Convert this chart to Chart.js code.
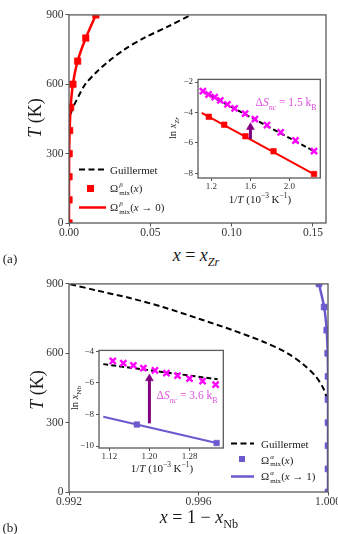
<!DOCTYPE html>
<html><head><meta charset="utf-8">
<script src="https://cdn.jsdelivr.net/npm/chart.js@4.4.1/dist/chart.umd.min.js"></script>
<style>
html,body{margin:0;padding:0;background:#fff;}
body{position:relative;width:338px;height:534px;overflow:hidden;font-family:"Liberation Serif","Times New Roman",serif;color:#1a1a1a;}
canvas{position:absolute;}
.t{position:absolute;white-space:nowrap;line-height:1;}
.c{transform:translate(-50%,-50%);}
.r{transform:translate(-50%,-50%) rotate(-90deg);}
.l{transform:translateY(-50%);}
sub,sup{font-size:0.68em;line-height:0;}
.ss{display:inline-block;position:relative;width:11px;height:0;margin-left:1px;}
.ss .u{position:absolute;left:0;top:-10px;font-size:7px;line-height:1;}
.ss .d{position:absolute;left:0;top:-2.5px;font-size:7px;line-height:1;}
.mg{color:#dd4fdd;}
.sym{position:absolute;}
</style></head><body>
<canvas id="cA" width="305" height="237" style="left:29px;top:6px"></canvas>
<canvas id="cB" width="151" height="120" style="left:176px;top:72px"></canvas>
<canvas id="cC" width="315" height="237" style="left:29px;top:275px"></canvas>
<canvas id="cD" width="155" height="119" style="left:75px;top:343px"></canvas>

<!-- panel (a) texts -->
<div class="t r" style="left:35px;top:118px;font-size:18px"><i>T</i> (K)</div>
<div class="t c" style="left:196px;top:255px;font-size:18px"><i>x</i> = <i>x</i><sub><i>Zr</i></sub></div>
<div class="t c" style="left:10px;top:258px;font-size:13px">(a)</div>
<div class="t r" style="left:173px;top:128px;font-size:10.5px">ln <i>x</i><sub><i>Zr</i></sub></div>
<div class="t c" style="left:260px;top:199px;font-size:11px">1/<i>T</i> (10<sup>−3</sup> K<sup>−1</sup>)</div>
<div class="t c mg" style="left:286px;top:103px;font-size:11.5px">Δ<i>S</i><sub><i>nc</i></sub> = 1.5 k<sub>B</sub></div>
<svg class="sym" style="left:78px;top:165px" width="30" height="9"><line x1="1" y1="4.5" x2="28" y2="4.5" stroke="#000" stroke-width="2" stroke-dasharray="6,3.5"/></svg>
<div class="sym" style="left:86.5px;top:184.5px;width:7px;height:7px;background:#f00"></div>
<svg class="sym" style="left:78px;top:202.5px" width="30" height="9"><line x1="1" y1="4.5" x2="28" y2="4.5" stroke="#f00" stroke-width="2.5"/></svg>
<div class="t l" style="left:110px;top:169.5px;font-size:11px">Guillermet</div>
<div class="t l" style="left:110px;top:188px;font-size:11px">Ω<span class="ss"><span class="u"><i>β</i></span><span class="d">mix</span></span>(<i>x</i>)</div>
<div class="t l" style="left:110px;top:207px;font-size:11px">Ω<span class="ss"><span class="u"><i>β</i></span><span class="d">mix</span></span>(<i>x</i> → 0)</div>

<!-- panel (b) texts -->
<div class="t r" style="left:37px;top:390px;font-size:18px"><i>T</i> (K)</div>
<div class="t c" style="left:199px;top:517px;font-size:18px"><i>x</i> = 1 − <i>x</i><sub>Nb</sub></div>
<div class="t c" style="left:10px;top:527px;font-size:13px">(b)</div>
<div class="t r" style="left:75px;top:398px;font-size:10.5px">ln <i>x</i><sub>Nb</sub></div>
<div class="t c" style="left:162px;top:468px;font-size:11px">1/<i>T</i> (10<sup>−3</sup> K<sup>−1</sup>)</div>
<div class="t c mg" style="left:187px;top:396px;font-size:11.5px">Δ<i>S</i><sub><i>nc</i></sub> = 3.6 k<sub>B</sub></div>
<svg class="sym" style="left:230px;top:439px" width="26" height="9"><line x1="1" y1="4.5" x2="24" y2="4.5" stroke="#000" stroke-width="2" stroke-dasharray="6,3.5"/></svg>
<div class="sym" style="left:238.7px;top:456.3px;width:6px;height:6px;background:#6a5acd"></div>
<svg class="sym" style="left:230px;top:471.5px" width="26" height="9"><line x1="1" y1="4.5" x2="24" y2="4.5" stroke="#6a5acd" stroke-width="2.5"/></svg>
<div class="t l" style="left:261px;top:443.5px;font-size:11px">Guillermet</div>
<div class="t l" style="left:261px;top:459.5px;font-size:11px">Ω<span class="ss"><span class="u"><i>α</i></span><span class="d">mix</span></span>(<i>x</i>)</div>
<div class="t l" style="left:261px;top:476px;font-size:11px">Ω<span class="ss"><span class="u"><i>α</i></span><span class="d">mix</span></span>(<i>x</i> → 1)</div>

<script>
// ---------- Panel (a): main ----------
const tempA = [0, 100, 200, 300, 400, 500, 600, 700, 800, 900];
const xZrBeta = [0, 0, 0.00002, 0.0001, 0.0004, 0.0010, 0.0024, 0.0053, 0.0103, 0.0165];
const guillermetT_A = [430, 460, 500, 550, 600, 650, 700, 750, 800, 850, 900];
const guillermetX_A = [0.0002, 0.0006, 0.0025, 0.0060, 0.0100, 0.0165, 0.0245, 0.0340, 0.0460, 0.0610, 0.0750];
const xTicksA = [0, 0.05, 0.10, 0.15];
const yTicksMain = [0, 300, 600, 900];

// ---------- Panel (a): inset ----------
const invT_A_mag = [1.112, 1.170, 1.233, 1.291, 1.364, 1.438, 1.545, 1.646, 1.770, 1.911, 2.062, 2.253];
const lnX_A_mag = [-2.60, -2.82, -2.99, -3.21, -3.47, -3.73, -4.08, -4.44, -4.83, -5.31, -5.85, -6.55];
const invT_A_red = [1.173, 1.331, 1.549, 1.837, 2.253];
const lnX_A_red = [-4.29, -4.81, -5.57, -6.56, -8.06];
const fitA_red_x = [1.10, 2.26];
const fitA_red_y = [-4.03, -8.09];
const fitA_blk_x = [1.11, 2.26];
const fitA_blk_y = [-2.62, -6.58];
const arrowA_x = [1.6, 1.6];
const arrowA_y = [-5.75, -4.98];
const xTicksAin = [1.2, 1.6, 2.0];
const yTicksAin = [-8, -6, -4, -2];

// ---------- Panel (b): main ----------
const tempB = [0, 100, 200, 300, 400, 500, 600, 700, 800, 900];
const xAlpha = [1, 1, 1, 1, 1, 1, 0.99999, 0.99996, 0.99988, 0.99972];
const guillermetT_B = [400, 450, 500, 550, 600, 650, 700, 750, 800, 840, 870, 900];
const guillermetX_B = [0.99998, 0.99985, 0.99962, 0.99925, 0.99875, 0.99800, 0.99705, 0.99600, 0.99490, 0.99385, 0.99290, 0.99200];
const xTicksB = [0.992, 0.996, 1.000];

// ---------- Panel (b): inset ----------
const invT_B_mag = [1.127, 1.148, 1.168, 1.188, 1.211, 1.234, 1.256, 1.280, 1.306, 1.332];
const lnX_B_mag = [-4.61, -4.75, -4.89, -5.06, -5.21, -5.38, -5.54, -5.73, -5.89, -6.11];
const invT_B_blue = [1.175, 1.334];
const lnX_B_blue = [-8.64, -9.81];
const fitB_blue_x = [1.108, 1.334];
const fitB_blue_y = [-8.15, -9.81];
const fitB_blk_x = [1.108, 1.336];
const fitB_blk_y = [-4.81, -5.77];
const arrowB_x = [1.20, 1.20];
const arrowB_y = [-8.56, -5.72];
const xTicksBin = [1.12, 1.20, 1.28];
const yTicksBin = [-10, -8, -6, -4];

const FONT = '"Liberation Serif", serif';
const RED = '#ff0000', BLUE = '#6a5acd', MAG = '#ff00ff', PURP = '#800080';

const pts = (xs, ys) => xs.map((x, i) => ({x: x, y: ys[i]}));
const minus = v => (v < 0 ? '\u2212' + Math.abs(v) : String(v));

const frame = {
  id: 'frame',
  beforeDraw(c, a, o) {
    if (o.bg) { const r = c.chartArea; c.ctx.save(); c.ctx.fillStyle = '#fff'; c.ctx.fillRect(r.left, r.top, r.width, r.height); c.ctx.restore(); }
  },
  afterDraw(c, a, o) {
    const r = c.chartArea, ctx = c.ctx; ctx.save();
    ctx.strokeStyle = o.color || '#5a5a5a'; ctx.lineWidth = o.lw || 1.3;
    ctx.strokeRect(r.left, r.top, r.width, r.height); ctx.restore();
  }
};

function lin(min, max, tickVals, fmt, size, fixed, isX, tickLen, pad) {
  return {
    type: 'linear', min: min, max: max,
    afterBuildTicks: s => { s.ticks = tickVals.map(v => ({value: v})); },
    afterFit: s => { if (isX) s.height = fixed; else s.width = fixed; },
    ticks: {callback: v => fmt(v), font: {family: FONT, size: size}, color: '#333',
            padding: pad, maxRotation: 0, minRotation: 0, autoSkip: false},
    grid: {display: true, drawOnChartArea: false, drawTicks: true, tickLength: tickLen, color: '#555', lineWidth: 1},
    border: {display: false}
  };
}

function mk(id, datasets, xs, ys, pad, bg) {
  return new Chart(document.getElementById(id), {
    type: 'scatter', data: {datasets: datasets},
    options: {responsive: false, animation: false, events: [], devicePixelRatio: 1,
      layout: {padding: pad},
      plugins: {legend: {display: false}, tooltip: {enabled: false}, frame: {bg: bg}},
      scales: {x: xs, y: ys}},
    plugins: [frame]
  });
}

const sq = (data, color, r) => ({data: data, showLine: false, pointStyle: 'rect', pointRadius: r,
  backgroundColor: color, borderColor: color, borderWidth: 0.6, clip: 0});
const ln = (data, color, w, dash, tension) => ({data: data, showLine: true, pointRadius: 0,
  borderColor: color, borderWidth: w, borderDash: dash || [], tension: tension || 0, clip: 0, fill: false});
const cross = (data) => ({data: data, showLine: false, pointStyle: 'crossRot', pointRadius: 4.3,
  borderColor: MAG, backgroundColor: MAG, borderWidth: 2.4, clip: 0});
const arrow = (data) => ({data: data, showLine: true, borderColor: PURP, borderWidth: 3,
  pointStyle: 'triangle', pointRadius: c => (c.dataIndex === 1 ? 4.6 : 0),
  pointBackgroundColor: PURP, pointBorderColor: PURP, pointBorderWidth: 0.5, clip: false});

// Panel (a) main
mk('cA', [
  sq(pts(xZrBeta, tempA), RED, 4.6),
  ln(pts(xZrBeta, tempA), RED, 2.5, null, 0.25),
  ln(pts(guillermetX_A, guillermetT_A), '#000', 2, [6, 3.5], 0.3)
], lin(0, 0.158, xTicksA, v => v.toFixed(2), 11.5, 20, true, 3.5, 0),
   lin(0, 900, yTicksMain, v => String(v), 11.5, 40, false, 3.5, 2),
   {left: 0, top: 8, right: 8, bottom: 0}, false);

// Panel (a) inset
mk('cB', [
  arrow(pts(arrowA_x, arrowA_y)),
  cross(pts(invT_A_mag, lnX_A_mag)),
  sq(pts(invT_A_red, lnX_A_red), RED, 3.9),
  ln(pts(fitA_blk_x, fitA_blk_y), '#000', 2, [5, 3]),
  ln(pts(fitA_red_x, fitA_red_y), RED, 2)
], lin(1.062, 2.317, xTicksAin, v => v.toFixed(1), 9, 14, true, 3, 0),
   lin(-8.32, -1.825, yTicksAin, minus, 9, 22, false, 3, 2),
   {left: 0, top: 6, right: 4, bottom: 0}, true);

// Panel (b) main
mk('cC', [
  sq(pts(xAlpha, tempB), BLUE, 4.2),
  ln(pts(xAlpha, tempB), BLUE, 2.5, null, 0.3),
  ln(pts(guillermetX_B, guillermetT_B), '#000', 2, [6, 3.5], 0.3)
], lin(0.992, 1.000, xTicksB, v => v.toFixed(3), 11.5, 20, true, 3.5, 0),
   lin(0, 900, yTicksMain, v => String(v), 11.5, 40, false, 3.5, 2),
   {left: 0, top: 8, right: 16, bottom: 0}, false);

// Panel (b) inset
mk('cD', [
  arrow(pts(arrowB_x, arrowB_y)),
  cross(pts(invT_B_mag, lnX_B_mag)),
  sq(pts(invT_B_blue, lnX_B_blue), BLUE, 3.9),
  ln(pts(fitB_blk_x, fitB_blk_y), '#000', 2, [5, 3]),
  ln(pts(fitB_blue_x, fitB_blue_y), BLUE, 2)
], lin(1.0995, 1.3473, xTicksBin, v => v.toFixed(2), 9, 14, true, 3, 0),
   lin(-10.125, -3.94, yTicksBin, minus, 9, 24, false, 3, 2),
   {left: 0, top: 6, right: 4, bottom: 0}, true);
</script>
</body></html>
